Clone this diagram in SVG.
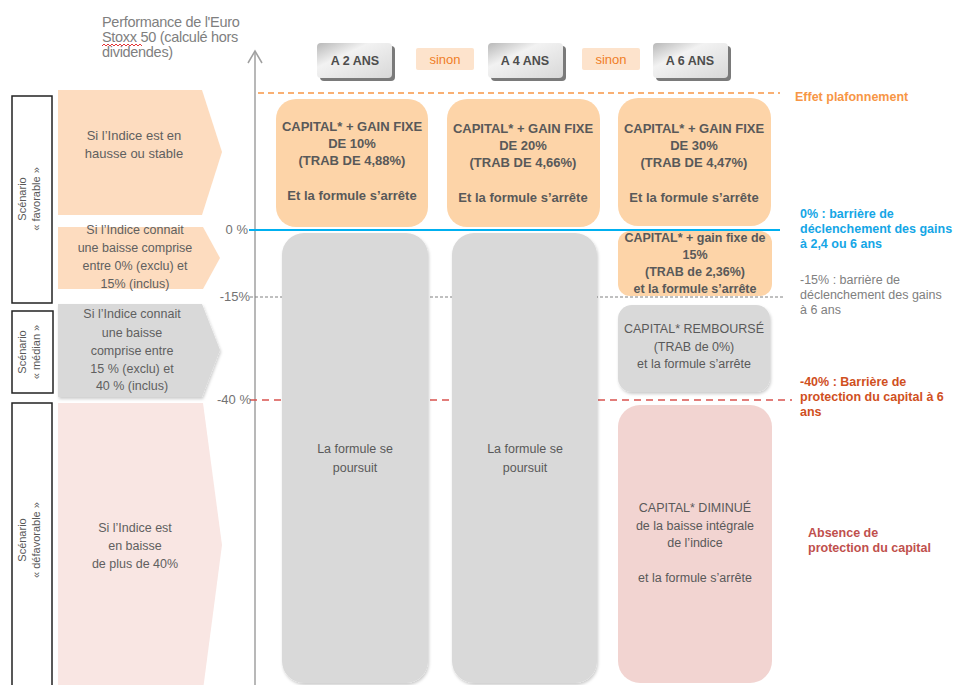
<svg xmlns="http://www.w3.org/2000/svg" width="955" height="685" viewBox="0 0 955 685">
<defs>
<style>
text{font-family:"Liberation Sans",Arial,sans-serif;}
.bx{font-size:13px;font-weight:bold;fill:#595959;text-anchor:middle;}
.rg{font-size:12.5px;fill:#595959;text-anchor:middle;}
.ar{font-size:12.5px;fill:#606060;text-anchor:middle;}
.hd{font-size:12.5px;font-weight:bold;fill:#4d4d4d;text-anchor:middle;}
.sn{font-size:13px;fill:#f07e26;text-anchor:middle;}
.ax{font-size:13px;fill:#737373;text-anchor:end;}
.lb{font-size:12.5px;font-weight:bold;}
.sc{font-size:11px;fill:#595959;text-anchor:middle;}
.scb{fill:#fff;stroke:#222;stroke-width:1.5;}
.tt{font-size:14.5px;fill:#7f7f7f;letter-spacing:-0.3px;}
</style>
<linearGradient id="hg" x1="0" y1="0" x2="1" y2="1">
<stop offset="0" stop-color="#b8b8b8"/>
<stop offset="0.35" stop-color="#f2f2f2"/>
<stop offset="1" stop-color="#d8d8d8"/>
</linearGradient>
<filter id="sh" x="-10%" y="-5%" width="125%" height="115%">
<feDropShadow dx="1" dy="2" stdDeviation="1.5" flood-color="#000" flood-opacity="0.2"/>
</filter>
</defs>
<rect width="955" height="685" fill="#fff"/>

<g id="title">
<text class="tt" x="102" y="27">Performance de l'Euro</text>
<text class="tt" x="102" y="42">Stoxx 50 (calculé hors</text>
<text class="tt" x="102" y="57">dividendes)</text>
<path d="M102,46 l2,-2 l2,2 l2,-2 l2,2 l2,-2 l2,2 l2,-2 l2,2 l2,-2 l2,2 l2,-2 l2,2 l2,-2 l2,2 l2,-2 l2,2 l2,-2 l2,2 l2,-2 l2,2" fill="none" stroke="#e02020" stroke-width="0.9"/>
</g>

<g id="connectors">
<line x1="255" y1="51" x2="255" y2="685" stroke="#a0a0a0" stroke-width="1.5"/>
<polyline points="248,63 255,51 262,63" fill="none" stroke="#a0a0a0" stroke-width="1.5"/>
<line x1="258" y1="93" x2="780" y2="93" stroke="#f79646" stroke-width="1.5" stroke-dasharray="6,4"/>
<line x1="249" y1="230" x2="780" y2="230" stroke="#00b0f0" stroke-width="2"/>
<line x1="250" y1="297" x2="784" y2="297" stroke="#808080" stroke-width="1" stroke-dasharray="3,2"/>
<line x1="250" y1="400" x2="792" y2="400" stroke="#d9534f" stroke-width="1.5" stroke-dasharray="7,5"/>
</g>

<g id="axis-labels">
<text class="ax" x="248" y="234">0 %</text>
<text class="ax" x="250" y="301">-15%</text>
<text class="ax" x="251" y="404">-40 %</text>
</g>

<g id="header-2ans">
<rect x="320" y="46" width="75" height="35" rx="4" fill="#7a7a7a"/>
<rect x="317" y="43" width="75" height="35" rx="4" fill="url(#hg)"/>
<text class="hd" x="355" y="65">A 2 ANS</text>
</g>
<g id="sinon-1">
<rect x="416" y="48" width="58" height="22" rx="2" fill="#fde3cc"/>
<text class="sn" x="445" y="64">sinon</text>
</g>
<g id="header-4ans">
<rect x="491" y="46" width="75" height="35" rx="4" fill="#7a7a7a"/>
<rect x="488" y="43" width="75" height="35" rx="4" fill="url(#hg)"/>
<text class="hd" x="525" y="65">A 4 ANS</text>
</g>
<g id="sinon-2">
<rect x="582" y="48" width="58" height="22" rx="2" fill="#fde3cc"/>
<text class="sn" x="611" y="64">sinon</text>
</g>
<g id="header-6ans">
<rect x="656" y="46" width="75" height="35" rx="4" fill="#7a7a7a"/>
<rect x="653" y="43" width="75" height="35" rx="4" fill="url(#hg)"/>
<text class="hd" x="690" y="65">A 6 ANS</text>
</g>

<g id="box-2ans-gain">
<rect x="276" y="99" width="152" height="128" rx="20" fill="#fdd4a8"/>
<text class="bx" x="352" y="131">CAPITAL* + GAIN FIXE</text>
<text class="bx" x="352" y="148">DE 10%</text>
<text class="bx" x="352" y="165">(TRAB DE 4,88%)</text>
<text class="bx" x="352" y="200">Et la formule s’arrête</text>
</g>
<g id="box-4ans-gain">
<rect x="447" y="99" width="153" height="128" rx="20" fill="#fdd4a8"/>
<text class="bx" x="523" y="133">CAPITAL* + GAIN FIXE</text>
<text class="bx" x="523" y="150">DE 20%</text>
<text class="bx" x="523" y="167">(TRAB DE 4,66%)</text>
<text class="bx" x="523" y="202">Et la formule s’arrête</text>
</g>
<g id="box-6ans-gain">
<rect x="618" y="98" width="153" height="128" rx="20" fill="#fdd4a8"/>
<text class="bx" x="694" y="133">CAPITAL* + GAIN FIXE</text>
<text class="bx" x="694" y="150">DE 30%</text>
<text class="bx" x="694" y="167">(TRAB DE 4,47%)</text>
<text class="bx" x="694" y="202">Et la formule s’arrête</text>
</g>

<g id="col-2ans-poursuit">
<rect x="282" y="233" width="146" height="450" rx="22" fill="#d9d9d9" filter="url(#sh)"/>
<text class="rg" x="355" y="453">La formule se</text>
<text class="rg" x="355" y="472">poursuit</text>
</g>
<g id="col-4ans-poursuit">
<rect x="452" y="233" width="145" height="450" rx="22" fill="#d9d9d9" filter="url(#sh)"/>
<text class="rg" x="525" y="453">La formule se</text>
<text class="rg" x="525" y="472">poursuit</text>
</g>

<g id="box-6ans-15">
<rect x="618" y="231" width="154" height="65" rx="12" fill="#fdd4a8"/>
<line x1="618" y1="230" x2="780" y2="230" stroke="#00b0f0" stroke-width="2"/>
<text class="bx" x="695" y="242" style="font-size:12.5px">CAPITAL* + gain fixe de</text>
<text class="bx" x="695" y="259" style="font-size:12.5px">15%</text>
<text class="bx" x="695" y="276" style="font-size:12.5px">(TRAB de 2,36%)</text>
<text class="bx" x="695" y="293" style="font-size:12.5px">et la formule s’arrête</text>
</g>
<g id="box-6ans-rembourse">
<rect x="618" y="305" width="152" height="87" rx="14" fill="#d9d9d9" filter="url(#sh)"/>
<text class="rg" x="694" y="333">CAPITAL* REMBOURSÉ</text>
<text class="rg" x="694" y="351">(TRAB de 0%)</text>
<text class="rg" x="694" y="368">et la formule s’arrête</text>
</g>
<g id="box-6ans-diminue">
<rect x="618" y="405" width="154" height="278" rx="22" fill="#f2d4d1"/>
<text class="rg" x="695" y="512">CAPITAL* DIMINUÉ</text>
<text class="rg" x="695" y="530">de la  baisse intégrale</text>
<text class="rg" x="695" y="547">de l’indice</text>
<text class="rg" x="695" y="582">et la formule s’arrête</text>
</g>

<g id="label-plafond">
<text class="lb" x="795" y="101" fill="#f79646">Effet plafonnement</text>
</g>
<g id="label-0">
<text class="lb" x="800" y="218" fill="#14a6e6">0% : barrière de</text>
<text class="lb" x="800" y="233" fill="#14a6e6">déclenchement des gains</text>
<text class="lb" x="800" y="248" fill="#14a6e6">à 2,4 ou 6 ans</text>
</g>
<g id="label-15">
<text class="lb" x="800" y="284" fill="#808080" style="font-weight:normal">-15% : barrière de</text>
<text class="lb" x="800" y="299" fill="#808080" style="font-weight:normal">déclenchement des gains</text>
<text class="lb" x="800" y="314" fill="#808080" style="font-weight:normal">à 6 ans</text>
</g>
<g id="label-40">
<text class="lb" x="800" y="386" fill="#d0501e">-40% : Barrière de</text>
<text class="lb" x="800" y="401" fill="#d0501e">protection  du capital à 6</text>
<text class="lb" x="800" y="416" fill="#d0501e">ans</text>
</g>
<g id="label-absence">
<text class="lb" x="808" y="537" fill="#c0504d">Absence de</text>
<text class="lb" x="808" y="552" fill="#c0504d">protection du capital</text>
</g>

<g id="scenario-favorable">
<rect class="scb" x="12" y="96" width="40" height="207"/>
<text class="sc" transform="translate(26,199) rotate(-90)">Scénario</text>
<text class="sc" transform="translate(40,199) rotate(-90)">« favorable »</text>
</g>
<g id="scenario-median">
<rect class="scb" x="12" y="311" width="41" height="82"/>
<text class="sc" transform="translate(26,352) rotate(-90)">Scénario</text>
<text class="sc" transform="translate(40,352) rotate(-90)">« médian »</text>
</g>
<g id="scenario-defavorable">
<rect class="scb" x="12" y="403" width="40" height="290"/>
<text class="sc" transform="translate(26,540) rotate(-90)">Scénario</text>
<text class="sc" transform="translate(40,540) rotate(-90)">« défavorable »</text>
</g>

<g id="cond-hausse">
<polygon points="58,90 202,90 222,152 202,215 58,215" fill="#fddcbf"/>
<text class="ar" x="134" y="140" style="font-size:13px">Si l’Indice est en</text>
<text class="ar" x="134" y="158" style="font-size:13px">hausse ou stable</text>
</g>
<g id="cond-0-15">
<polygon points="58,227 203,227 220,258 203,289 58,289" fill="#fddcbf"/>
<text class="ar" x="135" y="234">Si  l’Indice connait</text>
<text class="ar" x="135" y="252">une baisse comprise</text>
<text class="ar" x="135" y="270">entre 0% (exclu) et</text>
<text class="ar" x="135" y="288">15% (inclus)</text>
</g>
<g id="cond-15-40">
<polygon points="58,304 202,304 220,350 202,397 58,397" fill="#d9d9d9" filter="url(#sh)"/>
<text class="ar" x="132" y="318">Si l’Indice  connait</text>
<text class="ar" x="132" y="337">une baisse</text>
<text class="ar" x="132" y="355">comprise entre</text>
<text class="ar" x="132" y="373">15 % (exclu) et</text>
<text class="ar" x="132" y="390">40 % (inclus)</text>
</g>
<g id="cond-40">
<polygon points="58,403 203,403 222,545 203,690 58,690" fill="#f9e6e3"/>
<text class="ar" x="135" y="532">Si l’Indice est</text>
<text class="ar" x="135" y="550">en baisse</text>
<text class="ar" x="135" y="568">de plus de 40%</text>
</g>
</svg>
